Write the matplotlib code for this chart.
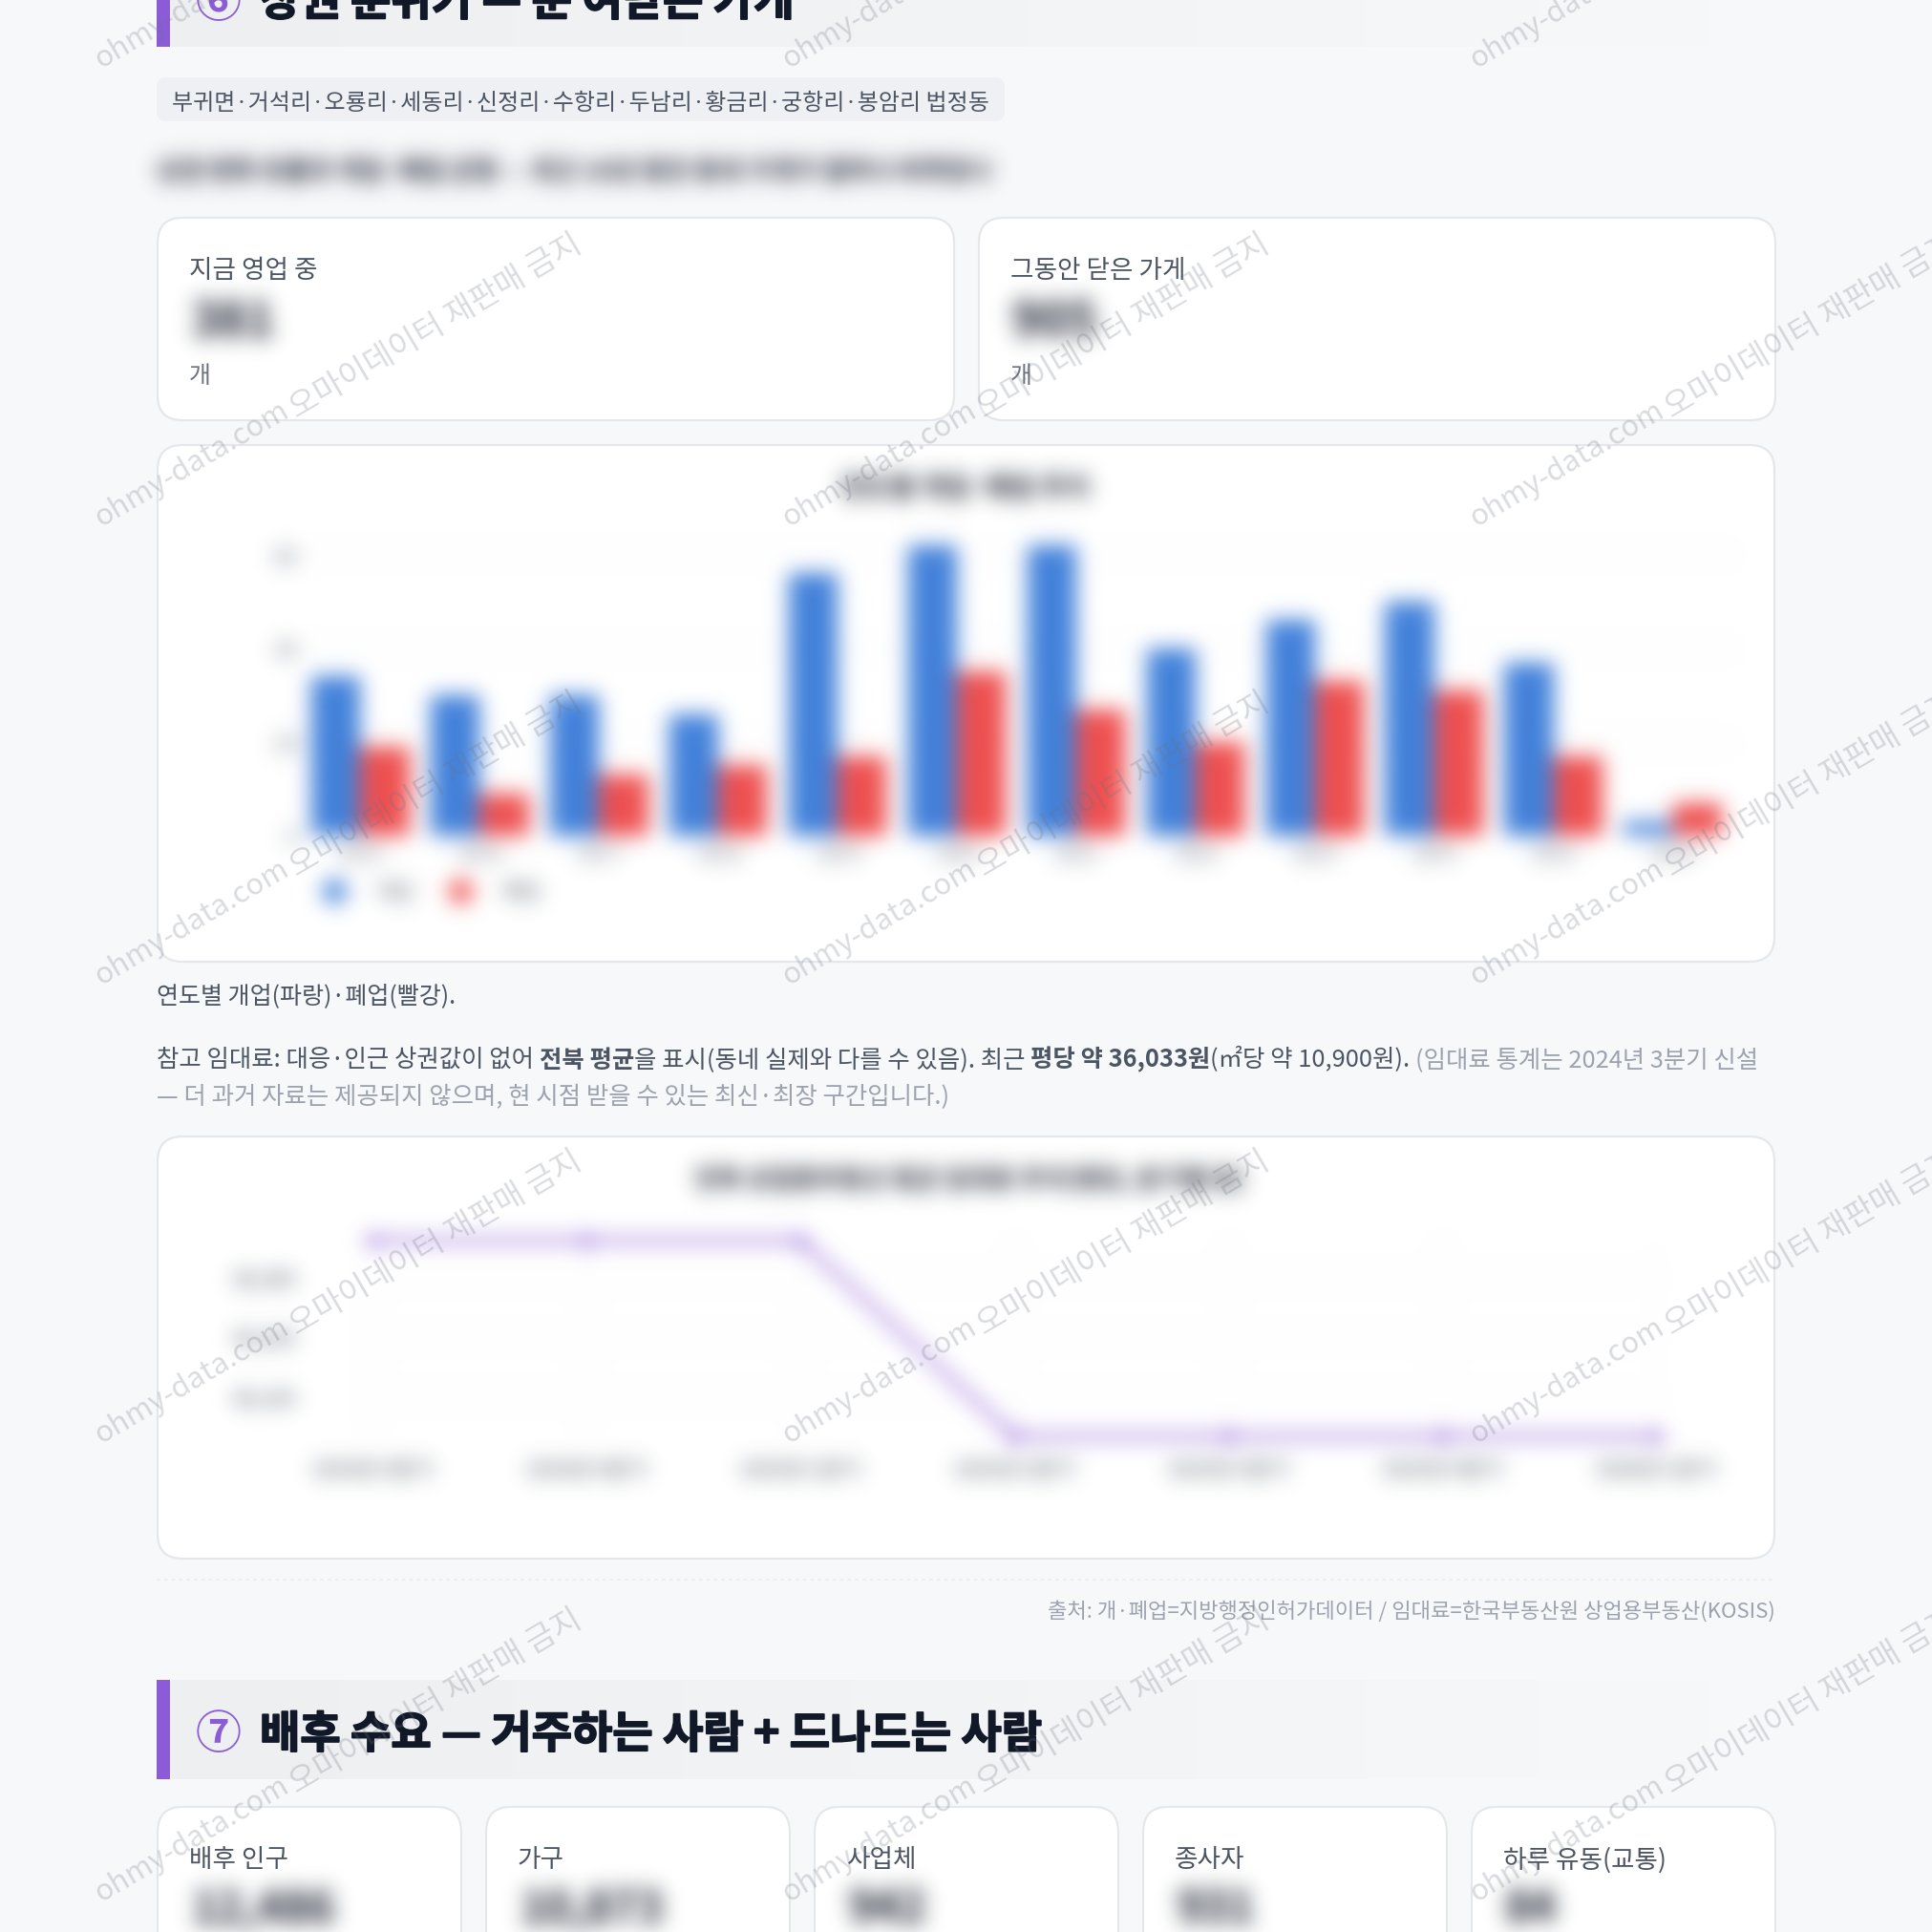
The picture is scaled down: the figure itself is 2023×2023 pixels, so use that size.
import matplotlib
matplotlib.use('Agg')
import matplotlib.pyplot as plt
import matplotlib.patheffects as pe
import numpy as np
from matplotlib.lines import Line2D
from matplotlib.patches import FancyBboxPatch, Rectangle

plt.rcParams['font.family'] = ['Noto Sans CJK KR', 'DejaVu Sans']

W, H = 2024, 2024

# store counts per year
years = ['2015', '2016', '2017', '2018', '2019', '2020', '2021', '2022', '2023', '2024', '2025', '2026']
opened = [34, 30, 30, 26, 56, 62, 62, 40, 46, 50, 37, 3]
closed = [19, 9, 13, 15, 17, 35, 27, 20, 33, 31, 17, 7]
bar_ticks = [0, 20, 40, 60]

# rent per pyeong by quarter
quarters = ['2024년 3분기', '2024년 4분기', '2025년 1분기', '2025년 2분기', '2025년 3분기', '2025년 4분기', '2026년 1분기']
rent = [36361, 36361, 36361, 36033, 36033, 36033, 36033]
rent_ticks = [36100, 36200, 36300]

top_cards = [('지금 영업 중', '381'), ('그동안 닫은 가게', '905')]
bottom_cards = [('배후 인구', '12,486'), ('가구', '10,873'), ('사업체', '942'), ('종사자', '931'), ('하루 유동(교통)', '84')]

BG = '#f7f8fa'
PURPLE = '#8b5cd6'
BLUE = '#4080da'
RED = '#ef4e4e'
BORDER = '#e5e7eb'


def px(n):
    # font size given in pixels
    return n * 0.72


def blur(img, dpi, sigma=11.0):
    pad = int(3 * sigma) + 1
    r = np.arange(-pad, pad + 1)
    kernel = np.exp(-r ** 2 / (2 * sigma ** 2))
    kernel /= kernel.sum()
    out = np.pad(img, ((pad, pad), (pad, pad), (0, 0)))
    # work on premultiplied colour so transparent pixels don't darken edges
    alpha = out[..., 3:4]
    out = np.concatenate([out[..., :3] * alpha, alpha], axis=2)
    for axis in (0, 1):
        out = np.apply_along_axis(lambda v: np.convolve(v, kernel, mode='same'), axis, out)
    a = np.clip(out[..., 3:4], 1e-6, 1)
    out = np.concatenate([np.clip(out[..., :3] / a, 0, 1), np.clip(out[..., 3:4], 0, 1)], axis=2)
    return out, -pad, -pad


def axes_px(left, top, right, bottom, **kw):
    return fig.add_axes([left / W, 1 - bottom / H, (right - left) / W, (bottom - top) / H], **kw)


fig = plt.figure(figsize=(W / 100, H / 100), dpi=100, facecolor=BG)
page = axes_px(0, 0, W, H, zorder=0)
page.set_xlim(0, W)
page.set_ylim(H, 0)
page.axis('off')


def card(x0, y0, x1, y1):
    page.add_patch(FancyBboxPatch((x0 + 26, y0 + 26), x1 - x0 - 52, y1 - y0 - 52,
                                  boxstyle='round,pad=26,rounding_size=26',
                                  fc='white', ec=BORDER, lw=1.6))


def heading(y0, y1, num, title):
    # band fades from light grey into the page colour
    ramp = np.zeros((1, 400, 3))
    for i, (a, b) in enumerate(zip((238, 239, 241), (247, 248, 250))):
        ramp[..., i] = np.linspace(a, b, 400) / 255
    page.imshow(ramp, extent=[178, 1790, y1, y0], aspect='auto', interpolation='bilinear')
    page.add_patch(Rectangle((164, y0), 14, y1 - y0, fc=PURPLE, ec='none'))
    yc = (y0 + y1) / 2 + 5
    page.text(229, yc, num, color=PURPLE, fontsize=px(48), ha='center', va='center', weight='bold')
    t = page.text(272, yc, title, color='#111827', fontsize=px(46), ha='left', va='center', weight='black')
    t.set_path_effects([pe.withStroke(linewidth=1.3, foreground='#111827')])


def blurred_text(x, y, s, size, color, weight='bold', ha='left'):
    t = page.text(x, y, s, fontsize=px(size), color=color, weight=weight, ha=ha, va='center')
    t.set_agg_filter(blur)
    return t


def runs(x, y, parts, size):
    # consecutive pieces of text on a single line
    rend = fig.canvas.get_renderer()
    for s, color, weight in parts:
        page.text(x, y, s, fontsize=px(size), color=color, weight=weight, ha='left', va='center')
        probe = page.text(0, 0, s + '|', fontsize=px(size), weight=weight)
        bar = page.text(0, 0, '|', fontsize=px(size), weight=weight)
        x += probe.get_window_extent(rend).width - bar.get_window_extent(rend).width
        probe.remove()
        bar.remove()


# section 6
heading(-54, 50, '⑥', '상권 분위기 — 문 여닫은 가게')
page.add_patch(FancyBboxPatch((174, 92), 868, 26, boxstyle='round,pad=10,rounding_size=10',
                              fc='#eef0f4', ec='none'))
page.text(180, 108, '부귀면·거석리·오룡리·세동리·신정리·수항리·두남리·황금리·궁항리·봉암리 법정동',
          fontsize=px(24), color='#4b5563', va='center')
blurred_text(164, 181, '상권 변화 흐름과 개업·폐업 균형 — 최근 10년 동안 동네 가게가 얼마나 바뀌었나', 26.5, '#111827', weight='black')

for (label, value), x0, x1 in zip(top_cards, [165, 1025], [999, 1859]):
    card(x0, 229, x1, 441)
    page.text(x0 + 33, 283, label, fontsize=px(26.6), color='#4b5563', va='center')
    blurred_text(x0 + 35, 338, value, 50, '#111827', weight='black')
    page.text(x0 + 33, 394, '개', fontsize=px(25), color='#6b7280', va='center')

# yearly openings and closings
card(165, 467, 1858, 1008)
bars = axes_px(315, 572, 1814, 876, zorder=1)
bars.patch.set_alpha(0)
x = np.arange(len(years))
bars.bar(x - 0.205, opened, width=0.41, color=BLUE, clip_on=False)
bars.bar(x + 0.205, closed, width=0.41, color=RED, clip_on=False)
bars.set_xlim(-0.5, len(years) - 0.5)
bars.set_ylim(0, 62)
bars.set_xticks(x, years)
bars.set_yticks(bar_ticks)
bars.tick_params(axis='x', length=0, labelsize=px(21), labelcolor='#6b7280', pad=px(8))
bars.tick_params(axis='y', length=0, labelsize=px(23), labelcolor='#6b7280', pad=px(3))
for s in bars.spines.values():
    s.set_visible(False)
bars.grid(axis='y', color='#f4f4f6', lw=1)
bars.set_axisbelow(True)
bars.set_title('연도별 개업·폐업 추이', fontsize=px(28), weight='black', color='#111827', x=0.464, pad=px(52))
handles = [Line2D([], [], ls='none', marker='o', ms=px(24), color=BLUE, label='개업'),
           Line2D([], [], ls='none', marker='o', ms=px(24), color=RED, label='폐업')]
bars.legend(handles=handles, loc='upper left', bbox_to_anchor=(0.003, -0.13), ncol=2, frameon=False,
            fontsize=px(22), labelcolor='#4b5563', handletextpad=0.95, columnspacing=1.2, borderaxespad=0)
bars.set_agg_filter(blur)

# notes
page.text(164, 1043, '연도별 개업(파랑)·폐업(빨강).', fontsize=px(25), color='#4b5563', va='center')
runs(164, 1110, [('참고 임대료: 대응·인근 상권값이 없어 ', '#4b5563', 'normal'),
                 ('전북 평균', '#4b5563', 'bold'),
                 ('을 표시(동네 실제와 다를 수 있음). 최근 ', '#4b5563', 'normal'),
                 ('평당 약 36,033원', '#4b5563', 'bold'),
                 ('(㎡당 약 10,900원). ', '#4b5563', 'normal'),
                 ('(임대료 통계는 2024년 3분기 신설', '#9ca3af', 'normal')], 25.4)
page.text(164, 1149, '— 더 과거 자료는 제공되지 않으며, 현 시점 받을 수 있는 최신·최장 구간입니다.)',
          fontsize=px(25.4), color='#9ca3af', va='center')

# rent trend
card(165, 1191, 1858, 1633)
line = axes_px(390, 1300, 1734, 1505, zorder=1)
line.patch.set_alpha(0)
line.plot(range(len(rent)), rent, color=PURPLE, lw=px(5.4), marker='o', ms=px(12), clip_on=False)
line.set_xlim(0, len(rent) - 1)
line.set_ylim(min(rent), max(rent))
line.set_xticks(range(len(quarters)), quarters)
line.set_yticks(rent_ticks, [f'{v:,}' for v in rent_ticks])
line.tick_params(length=0, labelsize=px(22), labelcolor='#374151')
line.tick_params(axis='x', pad=px(24))
line.tick_params(axis='y', pad=px(80))
for s in line.spines.values():
    s.set_visible(False)
line.grid(color='#f6f6f8', lw=1)
line.set_title('전북 상업용부동산 평균 임대료 추이(평당, 분기별 원)', fontsize=px(26.5), weight='black', color='#111827',
               x=0.465, pad=px(56))
line.set_agg_filter(blur)

# source line
page.plot([164, 1859], [1655, 1655], color='#eceef1', lw=1.4, ls=(0, (2, 2)))
page.text(1859, 1687, '출처: 개·폐업=지방행정인허가데이터 / 임대료=한국부동산원 상업용부동산(KOSIS)',
          fontsize=px(22.2), color='#9ca3af', ha='right', va='center')

# section 7
heading(1760, 1864, '⑦', '배후 수요 — 거주하는 사람 + 드나드는 사람')
for (label, value), x0 in zip(bottom_cards, [165, 509, 853, 1197, 1541]):
    card(x0, 1893, x0 + 318, 2100)
    page.text(x0 + 33, 1948, label, fontsize=px(26.6), color='#4b5563', va='center')
    blurred_text(x0 + 35, 2000, value, 46, '#111827', weight='black')

page.set_xlim(0, W)
page.set_ylim(H, 0)

# repeating watermark
over = axes_px(0, 0, W, H, zorder=5)
over.set_xlim(0, W)
over.set_ylim(H, 0)
over.axis('off')
for tx in [106, 826, 1546]:
    for ty in [72, 552, 1032, 1512, 1992]:
        over.text(tx, ty, 'ohmy-data.com', rotation=30.5, rotation_mode='anchor', fontsize=px(31),
                  color='#6b7280', alpha=0.25, ha='left', va='baseline')
        over.text(tx + 204, ty - 114, '오마이데이터 재판매 금지', rotation=30.5, rotation_mode='anchor', fontsize=px(33),
                  color='#6b7280', alpha=0.25, ha='left', va='baseline')

fig.savefig('out.png', dpi=100, facecolor=BG)
